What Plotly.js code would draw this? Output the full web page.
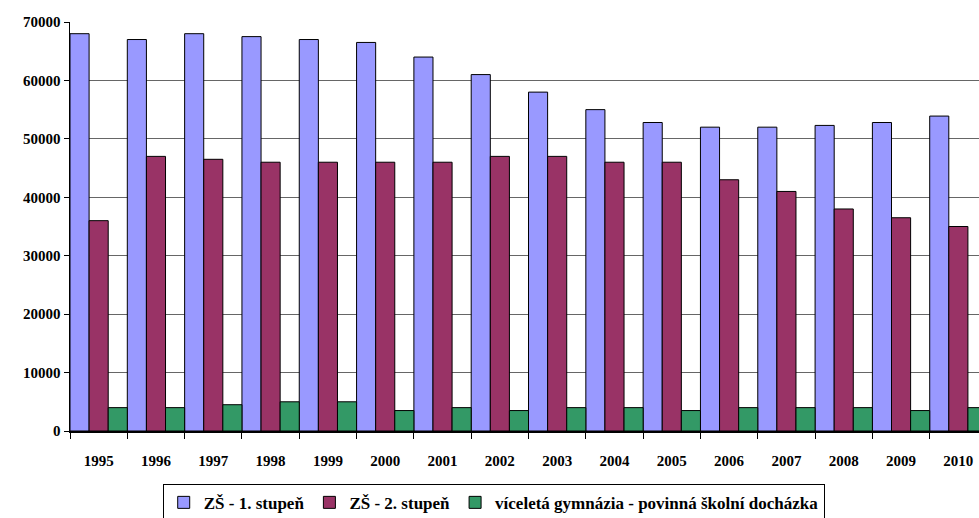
<!DOCTYPE html>
<html><head><meta charset="utf-8">
<script src="https://cdn.plot.ly/plotly-3.0.1.min.js"></script>
<style>html,body{margin:0;padding:0;background:#fff;}#c{width:979px;height:518px;}</style>
</head><body><div id="c"></div>
<script>
const years = ['1995','1996','1997','1998','1999','2000','2001','2002','2003','2004','2005','2006','2007','2008','2009','2010'];
const zs1 = [68000,67000,68000,67500,67000,66500,64000,61000,58000,55000,52800,52000,52000,52300,52800,53900];
const zs2 = [36000,47000,46500,46000,46000,46000,46000,47000,47000,46000,46000,43000,41000,38000,36500,35000];
const gym = [4000,4000,4500,5000,5000,3500,4000,3500,4000,4000,3500,4000,4000,4000,3500,4000];
const names = ['ZŠ - 1. stupeň','ZŠ - 2. stupeň','víceletá gymnázia - povinná školní docházka'];
const colors = ['#9999FF','#993366','#339966'];
const series = [zs1, zs2, gym];
const data = series.map((s,i)=>({
  type:'bar', x: years, y: s, name: names[i],
  marker:{color: colors[i], line:{color:'#000', width:1}}
}));
const fam = 'Liberation Serif, Times New Roman, serif';
const font = {family:fam, size:15, color:'#000', weight:700};
const layout = {
  width:979, height:518,
  margin:{l:70, r:0, t:22, b:87, autoexpand:false},
  paper_bgcolor:'#fff', plot_bgcolor:'#fff',
  barmode:'group', bargap:0, bargroupgap:0,
  font: font,
  showlegend:true,
  legend:{orientation:'h', x:0.102, xanchor:'left', yref:'container', y:0.066, yanchor:'top',
    bordercolor:'#000', borderwidth:1, font:{family:fam, size:17, color:'#000', weight:700},
    itemwidth:20, tracegroupgap:0},
  xaxis:{type:'category', range:[-0.5, 15.36], showline:true, linecolor:'#000', linewidth:1.5,
    ticks:'outside', tickson:'boundaries', ticklen:6, tickcolor:'#000', tickfont:font, showgrid:false,
    ticklabelstandoff:15, fixedrange:true, automargin:false},
  yaxis:{range:[0,70000], dtick:10000, showline:true, linecolor:'#000', linewidth:1.5,
    ticks:'outside', ticklen:5, tickcolor:'#000', tickfont:font, showgrid:true, gridcolor:'#666', gridwidth:1,
    zeroline:false, tickformat:'d', fixedrange:true, automargin:false}
};
Plotly.newPlot('c', data, layout, {staticPlot:true});
</script></body></html>
